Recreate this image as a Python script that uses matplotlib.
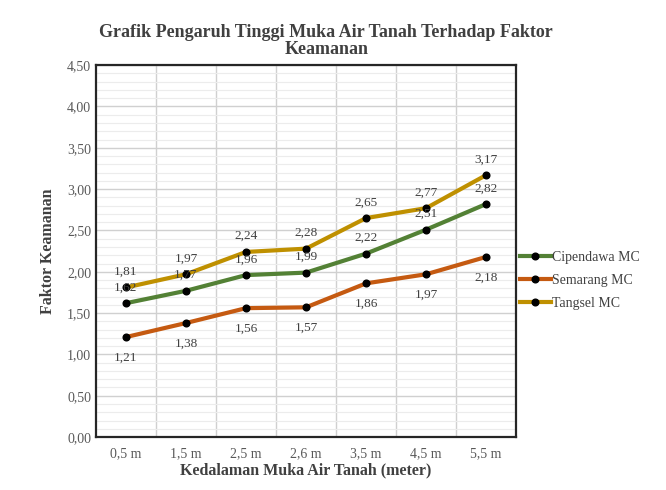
import matplotlib.pyplot as plt
from matplotlib.ticker import MultipleLocator, FuncFormatter
from matplotlib.lines import Line2D

plt.rcParams["font.family"] = ["Liberation Serif", "DejaVu Serif"]

kedalaman = ["0,5 m", "1,5 m", "2,5 m", "2,6 m", "3,5 m", "4,5 m", "5,5 m"]
cipendawa = [1.62, 1.77, 1.96, 1.99, 2.22, 2.51, 2.82]
semarang = [1.21, 1.38, 1.56, 1.57, 1.86, 1.97, 2.18]
tangsel = [1.81, 1.97, 2.24, 2.28, 2.65, 2.77, 3.17]

series = [
    ("Cipendawa MC", cipendawa, "#538135", 7),
    ("Semarang MC", semarang, "#C55A11", -19),
    ("Tangsel MC", tangsel, "#BF9000", 7),
]


def koma(v, _=None):
    return f"{v:.2f}".replace(".", ",")


fig = plt.figure(figsize=(6.66, 4.9), dpi=100)
ax = fig.add_axes([0.144, 0.108, 0.631, 0.759])

x = list(range(len(kedalaman)))
handles = []
for name, vals, color, dy in series:
    ax.plot(x, vals, color=color, lw=3, marker="o", ms=4.8,
            mfc="black", mec="black", zorder=3)
    for xi, v in zip(x, vals):
        ax.annotate(koma(v), (xi, v), xytext=(0, dy), textcoords="offset points",
                    ha="center", va="bottom",
                    fontsize=9.5, color="#404040", zorder=4)
    handles.append(Line2D([], [], color=color, lw=3, marker="o", ms=4.8,
                          mfc="black", mec="black", label=name))

ax.set_xlim(-0.5, len(kedalaman) - 0.5)
ax.set_ylim(0, 4.5)
ax.set_xticks(x)
ax.set_xticklabels(kedalaman)
ax.yaxis.set_major_locator(MultipleLocator(0.5))
ax.yaxis.set_minor_locator(MultipleLocator(0.1))
ax.yaxis.set_major_formatter(FuncFormatter(koma))
ax.set_xticks([i + 0.5 for i in x[:-1]], minor=True)

ax.grid(axis="y", which="major", color="#d0d0d0", lw=1)
ax.grid(axis="y", which="minor", color="#ececec", lw=0.8)
ax.grid(axis="x", which="minor", color="#d0d0d0", lw=1)
ax.set_axisbelow(True)
ax.tick_params(which="both", length=0, labelsize=10, labelcolor="#595959")
ax.tick_params(axis="x", pad=7)
for s in ax.spines.values():
    s.set_color("#262626")
    s.set_linewidth(1.6)

ax.set_xlabel("Kedalaman Muka Air Tanah (meter)", fontsize=11.5,
              fontweight="bold", color="#404040", labelpad=2)
ax.set_ylabel("Faktor Keamanan", fontsize=11.5, fontweight="bold",
              color="#404040", labelpad=8)
fig.suptitle("Grafik Pengaruh Tinggi Muka Air Tanah Terhadap Faktor\nKeamanan",
             x=0.49, y=0.952, fontsize=13, fontweight="bold", color="#404040",
             linespacing=1.02)

fig.legend(handles=handles, loc="center left", bbox_to_anchor=(0.762, 0.428),
           frameon=False, fontsize=10, handlelength=2.2, handletextpad=0.1,
           labelcolor="#404040", labelspacing=0.7)

fig.savefig("out.png", dpi=100)
